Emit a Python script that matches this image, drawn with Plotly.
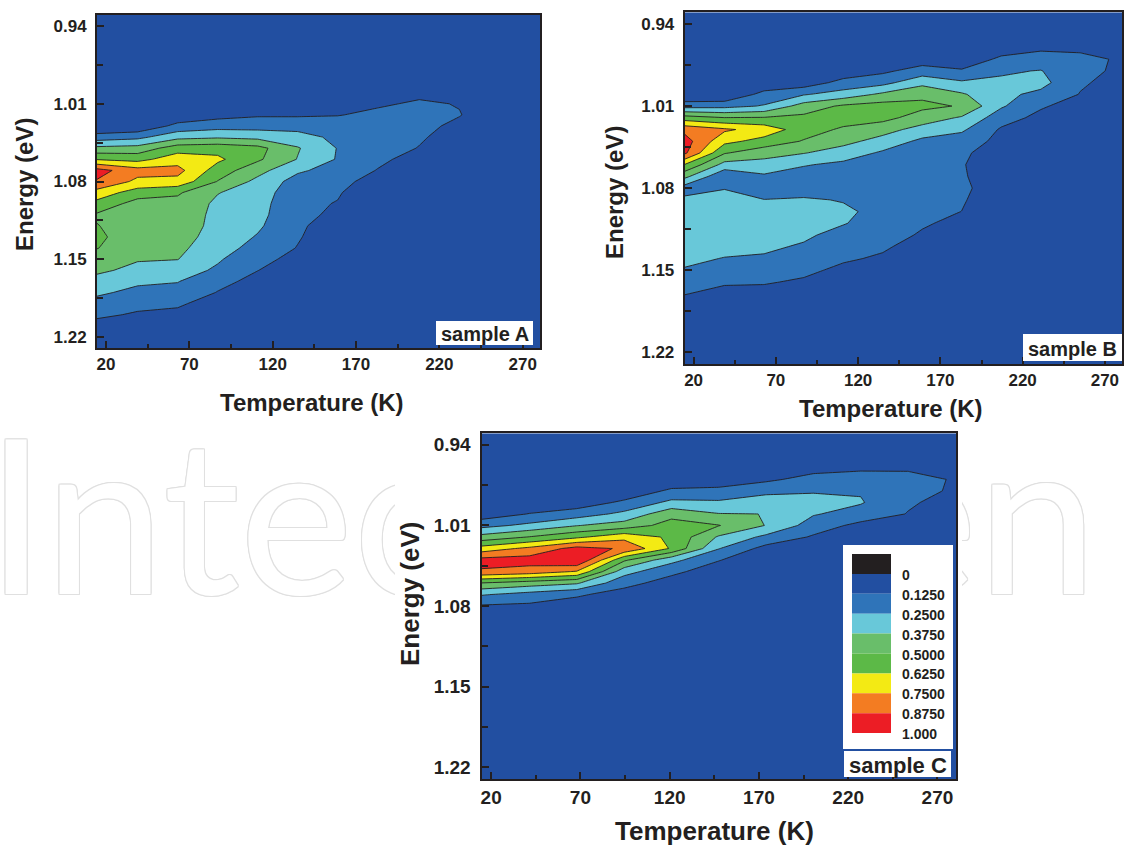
import numpy as np
import plotly.graph_objects as go

W, H = 1124, 846
FONT = "Liberation Sans, Arial, Helvetica, sans-serif"
INK = "#231f20"

# ---------------- data ----------------
energy = [0.93, 0.94, 0.95, 0.96, 0.97, 0.98, 0.99, 1.00, 1.01, 1.02, 1.03,
          1.04, 1.05, 1.06, 1.07, 1.08, 1.09, 1.10, 1.11, 1.12, 1.13, 1.14,
          1.15, 1.16, 1.17, 1.18, 1.19, 1.20, 1.21, 1.22, 1.23]

# sample A : normalised PL intensity, one list (over energy) per temperature
temp_a = [14.5, 39, 63, 87, 111, 135, 159, 183, 208, 232, 257, 281]
pl_a = [
    [0, 0, 0, 0, 0, 0, 0, 0, 0, 0, 0, 0.183, 0.407, 0.616, 0.92, 0.865, 0.70, 0.585, 0.485, 0.505, 0.525, 0.505, 0.44, 0.40, 0.33, 0.27, 0.21, 0.15, 0.08, 0.04, 0.02],
    [0, 0, 0, 0, 0, 0, 0, 0, 0, 0, 0.02, 0.217, 0.422, 0.584, 0.80, 0.72, 0.563, 0.45, 0.445, 0.44, 0.43, 0.41, 0.385, 0.34, 0.27, 0.22, 0.16, 0.11, 0.06, 0.03, 0.02],
    [0, 0, 0, 0, 0, 0, 0, 0, 0, 0.03, 0.163, 0.335, 0.567, 0.696, 0.79, 0.71, 0.517, 0.46, 0.445, 0.435, 0.42, 0.40, 0.378, 0.31, 0.255, 0.21, 0.14, 0.10, 0.06, 0.03, 0.02],
    [0, 0, 0, 0, 0, 0, 0, 0, 0, 0.08, 0.20, 0.358, 0.58, 0.65, 0.566, 0.495, 0.38, 0.352, 0.345, 0.342, 0.33, 0.31, 0.265, 0.23, 0.16, 0.12, 0.08, 0.05, 0.03, 0.02, 0.01],
    [0, 0, 0, 0, 0, 0, 0, 0, 0, 0.11, 0.20, 0.338, 0.54, 0.52, 0.42, 0.34, 0.32, 0.30, 0.29, 0.27, 0.24, 0.20, 0.16, 0.127, 0.09, 0.06, 0.04, 0.03, 0.02, 0.01, 0.01],
    [0, 0, 0, 0, 0, 0, 0, 0, 0, 0.11, 0.20, 0.30, 0.385, 0.37, 0.27, 0.20, 0.16, 0.15, 0.145, 0.14, 0.135, 0.12, 0.09, 0.06, 0.04, 0.03, 0.02, 0.01, 0.01, 0.01, 0.01],
    [0, 0, 0, 0, 0, 0, 0, 0, 0, 0.12, 0.18, 0.22, 0.245, 0.24, 0.20, 0.16, 0.135, 0.12, 0.11, 0.08, 0.05, 0.03, 0.02, 0.01, 0.01, 0.01, 0.01, 0.01, 0.01, 0.01, 0.01],
    [0, 0, 0, 0, 0, 0, 0, 0, 0.11, 0.15, 0.18, 0.19, 0.18, 0.15, 0.12, 0.08, 0.05, 0.03, 0.02, 0.01, 0.01, 0.01, 0.01, 0.01, 0.01, 0.01, 0.01, 0.01, 0.01, 0.01, 0.01],
    [0, 0, 0, 0, 0, 0, 0, 0.10, 0.14, 0.16, 0.155, 0.14, 0.12, 0.08, 0.05, 0.03, 0.02, 0.01, 0.01, 0.01, 0.01, 0.01, 0.01, 0.01, 0.01, 0.01, 0.01, 0.01, 0.01, 0.01, 0.01],
    [0, 0, 0, 0, 0, 0, 0.02, 0.06, 0.12, 0.13, 0.10, 0.07, 0.04, 0.03, 0.02, 0.01, 0.01, 0.01, 0.01, 0.01, 0.01, 0.01, 0.01, 0.01, 0.01, 0.01, 0.01, 0.01, 0.01, 0.01, 0.01],
    [0, 0, 0, 0, 0, 0, 0.01, 0.04, 0.05, 0.05, 0.04, 0.03, 0.02, 0.01, 0.01, 0.01, 0.01, 0.01, 0.01, 0.01, 0.01, 0.01, 0.01, 0.01, 0.01, 0.01, 0.01, 0.01, 0.01, 0.01, 0.01],
    [0, 0, 0, 0, 0, 0, 0, 0.01, 0.01, 0.01, 0.01, 0.01, 0.01, 0.01, 0.01, 0.01, 0.01, 0.01, 0.01, 0.01, 0.01, 0.01, 0.01, 0.01, 0.01, 0.01, 0.01, 0.01, 0.01, 0.01, 0.01],
]

# sample B
temp_b = [14.5, 38.8, 62.9, 87, 111, 135, 159, 183, 207, 231, 255, 281]
pl_b = [
    [0, 0, 0, 0, 0, 0, 0, 0, 0.20, 0.56, 0.84, 0.93, 0.90, 0.62, 0.41, 0.19, 0.28, 0.30, 0.31, 0.31, 0.30, 0.28, 0.24, 0.18, 0.13, 0.08, 0.05, 0.03, 0.02, 0.01, 0.01],
    [0, 0, 0, 0, 0, 0, 0, 0, 0.21, 0.505, 0.77, 0.66, 0.51, 0.33, 0.14, 0.245, 0.29, 0.30, 0.30, 0.30, 0.29, 0.245, 0.19, 0.14, 0.09, 0.05, 0.03, 0.02, 0.01, 0.01, 0.01],
    [0, 0, 0, 0, 0, 0, 0.02, 0.17, 0.26, 0.51, 0.70, 0.58, 0.42, 0.33, 0.23, 0.20, 0.252, 0.27, 0.275, 0.27, 0.265, 0.24, 0.18, 0.135, 0.09, 0.05, 0.03, 0.02, 0.01, 0.01, 0.01],
    [0, 0, 0, 0, 0, 0, 0.05, 0.24, 0.43, 0.53, 0.56, 0.49, 0.38, 0.26, 0.19, 0.21, 0.26, 0.27, 0.27, 0.265, 0.24, 0.20, 0.15, 0.11, 0.07, 0.04, 0.02, 0.01, 0.01, 0.01, 0.01],
    [0, 0, 0, 0, 0, 0.04, 0.17, 0.30, 0.52, 0.56, 0.48, 0.41, 0.32, 0.22, 0.18, 0.20, 0.245, 0.265, 0.255, 0.22, 0.18, 0.14, 0.10, 0.06, 0.04, 0.02, 0.01, 0.01, 0.01, 0.01, 0.01],
    [0, 0, 0, 0, 0, 0.10, 0.21, 0.40, 0.55, 0.54, 0.42, 0.33, 0.23, 0.19, 0.18, 0.19, 0.21, 0.225, 0.21, 0.18, 0.14, 0.11, 0.07, 0.05, 0.03, 0.02, 0.01, 0.01, 0.01, 0.01, 0.01],
    [0, 0, 0, 0, 0.06, 0.18, 0.34, 0.47, 0.53, 0.44, 0.33, 0.22, 0.18, 0.17, 0.17, 0.17, 0.17, 0.16, 0.14, 0.11, 0.08, 0.05, 0.03, 0.02, 0.01, 0.01, 0.01, 0.01, 0.01, 0.01, 0.01],
    [0, 0, 0, 0, 0.04, 0.14, 0.27, 0.39, 0.49, 0.36, 0.27, 0.19, 0.14, 0.13, 0.135, 0.145, 0.135, 0.124, 0.09, 0.06, 0.04, 0.03, 0.02, 0.01, 0.01, 0.01, 0.01, 0.01, 0.01, 0.01, 0.01],
    [0, 0, 0, 0.06, 0.15, 0.235, 0.27, 0.28, 0.265, 0.18, 0.11, 0.09, 0.08, 0.08, 0.07, 0.07, 0.06, 0.05, 0.04, 0.03, 0.02, 0.01, 0.01, 0.01, 0.01, 0.01, 0.01, 0.01, 0.01, 0.01, 0.01],
    [0, 0, 0.03, 0.10, 0.18, 0.255, 0.29, 0.22, 0.14, 0.09, 0.06, 0.04, 0.03, 0.02, 0.01, 0.01, 0.01, 0.01, 0.01, 0.01, 0.01, 0.01, 0.01, 0.01, 0.01, 0.01, 0.01, 0.01, 0.01, 0.01, 0.01],
    [0, 0, 0.03, 0.10, 0.155, 0.16, 0.14, 0.12, 0.07, 0.04, 0.02, 0.01, 0.01, 0.01, 0.01, 0.01, 0.01, 0.01, 0.01, 0.01, 0.01, 0.01, 0.01, 0.01, 0.01, 0.01, 0.01, 0.01, 0.01, 0.01, 0.01],
    [0, 0, 0.01, 0.06, 0.11, 0.10, 0.08, 0.05, 0.03, 0.02, 0.01, 0.01, 0.01, 0.01, 0.01, 0.01, 0.01, 0.01, 0.01, 0.01, 0.01, 0.01, 0.01, 0.01, 0.01, 0.01, 0.01, 0.01, 0.01, 0.01, 0.01],
]

# sample C
temp_c = [14.5, 41.5, 68, 94.5, 121, 147.5, 174, 200.5, 227, 253.5, 281]
pl_c = [
    [0, 0, 0, 0, 0, 0, 0, 0.05, 0.21, 0.42, 0.68, 0.92, 0.86, 0.495, 0.26, 0.11, 0.05, 0.02, 0.01, 0.01, 0.01, 0.01, 0.01, 0.01, 0.01, 0.01, 0.01, 0.01, 0.01, 0.01, 0.01],
    [0, 0, 0, 0, 0, 0, 0.03, 0.13, 0.28, 0.505, 0.78, 0.93, 0.82, 0.44, 0.20, 0.10, 0.05, 0.02, 0.01, 0.01, 0.01, 0.01, 0.01, 0.01, 0.01, 0.01, 0.01, 0.01, 0.01, 0.01, 0.01],
    [0, 0, 0, 0, 0, 0, 0.05, 0.19, 0.37, 0.60, 0.92, 1.00, 0.74, 0.39, 0.14, 0.07, 0.03, 0.02, 0.01, 0.01, 0.01, 0.01, 0.01, 0.01, 0.01, 0.01, 0.01, 0.01, 0.01, 0.01, 0.01],
    [0, 0, 0, 0, 0, 0.03, 0.15, 0.28, 0.43, 0.71, 0.86, 0.52, 0.30, 0.16, 0.08, 0.04, 0.02, 0.01, 0.01, 0.01, 0.01, 0.01, 0.01, 0.01, 0.01, 0.01, 0.01, 0.01, 0.01, 0.01, 0.01],
    [0, 0, 0, 0, 0.03, 0.15, 0.28, 0.46, 0.55, 0.60, 0.61, 0.29, 0.15, 0.08, 0.04, 0.02, 0.01, 0.01, 0.01, 0.01, 0.01, 0.01, 0.01, 0.01, 0.01, 0.01, 0.01, 0.01, 0.01, 0.01, 0.01],
    [0, 0, 0, 0, 0.06, 0.155, 0.27, 0.38, 0.505, 0.36, 0.255, 0.13, 0.07, 0.04, 0.02, 0.01, 0.01, 0.01, 0.01, 0.01, 0.01, 0.01, 0.01, 0.01, 0.01, 0.01, 0.01, 0.01, 0.01, 0.01, 0.01],
    [0, 0, 0, 0.03, 0.10, 0.22, 0.31, 0.374, 0.37, 0.22, 0.08, 0.05, 0.03, 0.02, 0.01, 0.01, 0.01, 0.01, 0.01, 0.01, 0.01, 0.01, 0.01, 0.01, 0.01, 0.01, 0.01, 0.01, 0.01, 0.01, 0.01],
    [0, 0, 0, 0.08, 0.17, 0.24, 0.29, 0.26, 0.19, 0.11, 0.07, 0.04, 0.03, 0.02, 0.01, 0.01, 0.01, 0.01, 0.01, 0.01, 0.01, 0.01, 0.01, 0.01, 0.01, 0.01, 0.01, 0.01, 0.01, 0.01, 0.01],
    [0, 0, 0.02, 0.10, 0.19, 0.24, 0.26, 0.20, 0.09, 0.05, 0.03, 0.02, 0.01, 0.01, 0.01, 0.01, 0.01, 0.01, 0.01, 0.01, 0.01, 0.01, 0.01, 0.01, 0.01, 0.01, 0.01, 0.01, 0.01, 0.01, 0.01],
    [0, 0, 0.02, 0.11, 0.16, 0.16, 0.14, 0.12, 0.06, 0.03, 0.02, 0.01, 0.01, 0.01, 0.01, 0.01, 0.01, 0.01, 0.01, 0.01, 0.01, 0.01, 0.01, 0.01, 0.01, 0.01, 0.01, 0.01, 0.01, 0.01, 0.01],
    [0, 0, 0.01, 0.06, 0.115, 0.11, 0.08, 0.05, 0.03, 0.02, 0.01, 0.01, 0.01, 0.01, 0.01, 0.01, 0.01, 0.01, 0.01, 0.01, 0.01, 0.01, 0.01, 0.01, 0.01, 0.01, 0.01, 0.01, 0.01, 0.01, 0.01],
]

levels = [0.125, 0.25, 0.375, 0.5, 0.625, 0.75, 0.875]
band_colors = ["#224fa1", "#2f74b9", "#68c8d9", "#69be6a", "#5cb947",
               "#f3ea14", "#f37c22", "#ec1d25"]
legend_labels = ["0", "0.1250", "0.2500", "0.3750", "0.5000", "0.6250",
                 "0.7500", "0.8750", "1.000"]
legend_colors = ["#231f20"] + band_colors
sample_names = ["sample A", "sample B", "sample C"]
x_ticks = [20, 70, 120, 170, 220, 270]
y_ticks = [0.94, 1.01, 1.08, 1.15, 1.22]

for cols in (pl_a, pl_b, pl_c):
    for c in cols:
        assert len(c) == len(energy), len(c)

# ---------------- helpers ----------------
def fx(px):
    return px / W

def fy(py):
    return 1 - py / H

nb = len(band_colors)
colorscale = []
for k, c in enumerate(band_colors):
    colorscale.append([max(0.0, (k - 0.5) / (nb - 1)), c])
    colorscale.append([min(1.0, (k + 0.5) / (nb - 1)), c])

fig = go.Figure()

# background layer: watermark text + white card behind sample C
wm_kwargs = dict(x=[-14], y=[540], mode="text", text=["IntechOpen"],
                 textposition="middle right", xaxis="x", yaxis="y",
                 hoverinfo="skip", showlegend=False)
sh = "#e0e0e0"
shadow = ", ".join(f"{a}px {b}px 0 {sh}" for a, b in
                   [(1, 0), (-1, 0), (0, 1), (0, -1), (1, 1), (-1, -1), (1, -1), (-1, 1)])
try:
    wm = go.Scatter(textfont=dict(family="Lato", size=215, color="white", shadow=shadow), **wm_kwargs)
except Exception:
    wm = go.Scatter(textfont=dict(family="Lato", size=215, color="#eeeeee"), **wm_kwargs)
fig.add_trace(wm)
fig.add_trace(go.Scatter(x=[395, 962, 962, 395, 395], y=[420, 420, 846, 846, 420],
                         mode="lines", fill="toself", fillcolor="white",
                         line=dict(width=0, color="white"), xaxis="x", yaxis="y",
                         hoverinfo="skip", showlegend=False))

panels = [
    dict(ax="2", t=temp_a, z=pl_a, x0=97, x1=540, y0=15, y1=348, tick=17,
         ttl=24, ytx=24, yty=185, xtx=312, xty=403),
    dict(ax="3", t=temp_b, z=pl_b, x0=684.7, x1=1122, y0=12.3, y1=364, tick=17,
         ttl=24, ytx=615, yty=193, xtx=891, xty=408),
    dict(ax="4", t=temp_c, z=pl_c, x0=481.5, x1=956, y0=433.3, y1=779, tick=19,
         ttl=26, ytx=410, yty=594, xtx=714, xty=831),
]

layout = dict(
    width=W, height=H, autosize=False,
    margin=dict(l=0, r=0, t=0, b=0),
    paper_bgcolor="white", plot_bgcolor="white",
    showlegend=False,
    xaxis=dict(domain=[0, 1], range=[0, W], visible=False, fixedrange=True, anchor="y"),
    yaxis=dict(domain=[0, 1], range=[H, 0], visible=False, fixedrange=True, anchor="x"),
)

annotations = []
shapes = []

for p in panels:
    z = np.array(p["z"], dtype=float).T
    fig.add_trace(go.Contour(
        x=p["t"], y=energy, z=z, xaxis="x" + p["ax"], yaxis="y" + p["ax"],
        autocontour=False,
        contours=dict(start=levels[0], end=levels[-1], size=0.125,
                      coloring="fill", showlines=True),
        line=dict(color=INK, width=0.9, smoothing=0),
        colorscale=colorscale, showscale=False, hoverinfo="skip"))
    tf = dict(family=FONT, size=p["tick"], color=INK, weight="bold")
    layout["xaxis" + p["ax"]] = dict(
        domain=[fx(p["x0"]), fx(p["x1"])], anchor="y" + p["ax"],
        range=[14.6, 280.4], autorange=False,
        tickmode="array", tickvals=x_ticks, ticktext=[str(v) for v in x_ticks],
        ticks="inside", ticklen=7, tickwidth=2, tickcolor=INK,
        minor=dict(ticks="inside", ticklen=4, tickwidth=1.5, tickcolor=INK,
                   tick0=20, dtick=25, showgrid=False),
        showline=True, linewidth=2, linecolor=INK, mirror=True,
        showgrid=False, zeroline=False, tickfont=tf, ticklabelstandoff=0,
        fixedrange=True)
    layout["yaxis" + p["ax"]] = dict(
        domain=[fy(p["y1"]), fy(p["y0"])], anchor="x" + p["ax"],
        range=[1.23, 0.93], autorange=False,
        tickmode="array", tickvals=y_ticks, ticktext=[f"{v:.2f}" for v in y_ticks],
        ticks="inside", ticklen=7, tickwidth=2, tickcolor=INK,
        minor=dict(ticks="inside", ticklen=6, tickwidth=1.5, tickcolor=INK,
                   tick0=0.94, dtick=0.035, showgrid=False),
        showline=True, linewidth=2, linecolor=INK, mirror=True,
        showgrid=False, zeroline=False, tickfont=tf, ticklabelstandoff=5,
        fixedrange=True)
    annotations.append(dict(text="Energy (eV)", x=fx(p["ytx"]), y=fy(p["yty"]),
                            xref="paper", yref="paper", textangle=-90, showarrow=False,
                            xanchor="center", yanchor="middle",
                            font=dict(family=FONT, size=p["ttl"], color=INK, weight="bold")))
    annotations.append(dict(text="Temperature (K)", x=fx(p["xtx"]), y=fy(p["xty"]),
                            xref="paper", yref="paper", showarrow=False,
                            xanchor="center", yanchor="middle",
                            font=dict(family=FONT, size=p["ttl"], color=INK, weight="bold")))

# sample labels
sample_boxes = [(436, 533, 321, 345, 20), (1023, 1122, 334, 361, 20), (844, 951, 751, 777, 22)]
for name, (bx0, bx1, by0, by1, fs) in zip(sample_names, sample_boxes):
    shapes.append(dict(type="rect", xref="paper", yref="paper",
                       x0=fx(bx0), x1=fx(bx1), y0=fy(by1), y1=fy(by0),
                       fillcolor="white", line=dict(width=0)))
    annotations.append(dict(text=name, x=fx((bx0 + bx1) / 2), y=fy((by0 + by1) / 2 + 1),
                            xref="paper", yref="paper", showarrow=False,
                            xanchor="center", yanchor="middle",
                            font=dict(family=FONT, size=fs, color=INK, weight="bold")))

# colour key inside panel C
shapes.append(dict(type="rect", xref="paper", yref="paper",
                   x0=fx(843), x1=fx(953), y0=fy(749), y1=fy(545),
                   fillcolor="white", line=dict(width=0)))
sw_top = 554
sw_h = 19.9
for i, (c, lab) in enumerate(zip(legend_colors, legend_labels)):
    t0 = sw_top + i * sw_h
    shapes.append(dict(type="rect", xref="paper", yref="paper",
                       x0=fx(852), x1=fx(891), y0=fy(t0 + sw_h), y1=fy(t0),
                       fillcolor=c, line=dict(width=0)))
    annotations.append(dict(text=lab, x=fx(900), y=fy(t0 + sw_h + 1),
                            xref="paper", yref="paper", showarrow=False,
                            xanchor="left", yanchor="middle",
                            font=dict(family=FONT, size=14, color=INK, weight="bold")))

layout["annotations"] = annotations
layout["shapes"] = shapes
fig.update_layout(**layout)

fig.write_html("out.html", config={"displayModeBar": False})
